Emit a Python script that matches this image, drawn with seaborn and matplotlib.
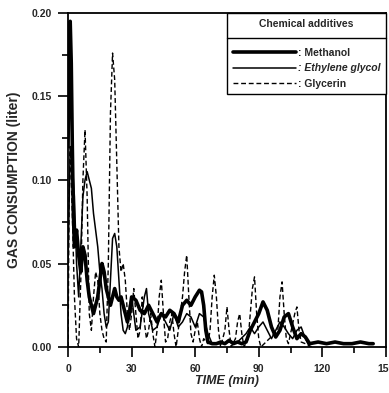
import matplotlib
matplotlib.use('Agg')
import matplotlib.pyplot as plt
from matplotlib.lines import Line2D
from matplotlib.ticker import MultipleLocator, FormatStrFormatter
import seaborn as sns

# Methanol (thick solid)
t_methanol = [0, 0.5, 1, 1.5, 2, 2.5, 3, 4, 5, 6, 7, 8, 9, 10, 11, 12, 13, 14, 15, 16,
              17, 18, 19, 20, 21, 22, 23, 24, 25, 26, 27, 28, 29, 30, 32, 34, 36, 38, 40,
              42, 44, 46, 48, 50, 52, 54, 56, 58, 60, 62, 63, 64, 65, 66, 68, 70, 72, 74,
              76, 78, 80, 82, 84, 86, 88, 90, 92, 94, 96, 98, 100, 102, 104, 106, 108,
              110, 112, 114, 118, 122, 126, 130, 134, 138, 142, 144]
v_methanol = [0.12, 0.19, 0.195, 0.17, 0.12, 0.08, 0.06, 0.07, 0.055, 0.045, 0.06, 0.055,
              0.04, 0.03, 0.025, 0.02, 0.025, 0.03, 0.04, 0.05, 0.045, 0.035, 0.03, 0.025,
              0.03, 0.035, 0.03, 0.028, 0.03, 0.025, 0.02, 0.015, 0.02, 0.03, 0.028, 0.022,
              0.02, 0.025, 0.02, 0.015, 0.02, 0.018, 0.022, 0.02, 0.015, 0.025, 0.028,
              0.025, 0.03, 0.034, 0.033, 0.025, 0.01, 0.003, 0.002, 0.002, 0.003, 0.002,
              0.004, 0.002, 0.003, 0.002, 0.003, 0.01, 0.015, 0.02, 0.027, 0.022, 0.012,
              0.006, 0.01, 0.018, 0.02, 0.012, 0.005, 0.008, 0.006, 0.002, 0.003, 0.002,
              0.003, 0.002, 0.002, 0.003, 0.002, 0.002]

# Ethylene glycol (thin solid)
t_glycol = [0, 1, 2, 3, 4, 5, 6, 7, 8, 9, 10, 11, 12, 13, 14, 15, 16, 17, 18, 19, 20, 21,
            22, 23, 24, 25, 26, 27, 28, 29, 30, 31, 32, 34, 36, 37, 38, 40, 42, 44, 46,
            48, 50, 52, 54, 56, 58, 60, 62, 64, 66, 68, 72, 76, 80, 84, 86, 88, 90, 92,
            94, 96, 98, 100, 102, 104, 106, 108, 110, 112, 114]
v_glycol = [0.05, 0.12, 0.11, 0.09, 0.05, 0.03, 0.06, 0.09, 0.1, 0.105, 0.1, 0.095, 0.08,
            0.07, 0.06, 0.045, 0.035, 0.02, 0.012, 0.015, 0.04, 0.065, 0.068, 0.06, 0.04,
            0.02, 0.01, 0.008, 0.012, 0.025, 0.03, 0.02, 0.01, 0.012, 0.03, 0.035, 0.02,
            0.01, 0.012, 0.02, 0.015, 0.01, 0.02, 0.012, 0.015, 0.02, 0.018, 0.012, 0.02,
            0.018, 0.008, 0.002, 0.002, 0.003, 0.003, 0.008, 0.012, 0.008, 0.012, 0.015,
            0.01, 0.005, 0.01, 0.015, 0.012, 0.008, 0.005, 0.01, 0.012, 0.005, 0.0]

# Glycerin (dashed)
t_glycerin = [0, 0.5, 1, 2, 3, 4, 5, 6, 7, 8, 9, 10, 11, 12, 13, 14, 15, 16, 17, 18, 19,
              20, 21, 22, 23, 24, 25, 26, 27, 28, 29, 30, 31, 32, 33, 34, 35, 36, 37, 38,
              39, 40, 41, 42, 43, 44, 45, 46, 47, 48, 49, 50, 51, 52, 53, 54, 55, 56, 57,
              58, 59, 60, 61, 62, 63, 64, 66, 67, 68, 69, 70, 71, 72, 74, 75, 76, 77, 79,
              80, 81, 82, 83, 85, 86, 87, 88, 89, 90, 91, 99, 100, 101, 102, 103, 104, 105,
              107, 108, 109, 110, 112, 115]
v_glycerin = [0.0, 0.09, 0.12, 0.08, 0.03, 0.005, 0.0, 0.04, 0.1, 0.13, 0.09, 0.02, 0.01,
              0.03, 0.045, 0.04, 0.02, 0.01, 0.005, 0.003, 0.05, 0.14, 0.176, 0.16, 0.11,
              0.06, 0.045, 0.05, 0.04, 0.02, 0.01, 0.02, 0.035, 0.02, 0.005, 0.01, 0.03,
              0.015, 0.005, 0.01, 0.02, 0.008, 0.0, 0.01, 0.03, 0.04, 0.02, 0.003, 0.005,
              0.015, 0.02, 0.008, 0.0, 0.01, 0.02, 0.03, 0.045, 0.055, 0.03, 0.008, 0.003,
              0.01, 0.015, 0.005, 0.0, 0.005, 0.002, 0.01, 0.03, 0.043, 0.03, 0.01, 0.0,
              0.01, 0.024, 0.01, 0.0, 0.005, 0.015, 0.02, 0.008, 0.0, 0.005, 0.02, 0.035,
              0.042, 0.02, 0.005, 0.0, 0.01, 0.03, 0.039, 0.02, 0.005, 0.002, 0.008, 0.02,
              0.024, 0.01, 0.003, 0.002, 0.0]

series_labels = [': Methanol', ': Ethylene glycol', ': Glycerin']
legend_title = 'Chemical additives'

sns.set_style('ticks')
plt.rcParams['font.family'] = ['Liberation Sans', 'DejaVu Sans']
plt.rcParams['font.weight'] = 'bold'

fig = plt.figure(figsize=(3.89, 3.93), dpi=100)
ax = fig.add_axes([0.175, 0.117, 0.817, 0.85])

sns.lineplot(x=t_methanol, y=v_methanol, ax=ax, color='black', linewidth=2.6,
             label=series_labels[0])
sns.lineplot(x=t_glycol, y=v_glycol, ax=ax, color='black', linewidth=1.1,
             label=series_labels[1])
sns.lineplot(x=t_glycerin, y=v_glycerin, ax=ax, color='black', linewidth=1.0,
             linestyle=(0, (3.5, 2)), label=series_labels[2])

ax.set_xlim(0, 150)
ax.set_ylim(0, 0.2)
ax.xaxis.set_major_locator(MultipleLocator(30))
ax.xaxis.set_minor_locator(MultipleLocator(15))
ax.yaxis.set_major_locator(MultipleLocator(0.05))
ax.yaxis.set_minor_locator(MultipleLocator(0.025))
ax.yaxis.set_major_formatter(FormatStrFormatter('%.2f'))
ax.tick_params(which='major', direction='out', length=7, width=1.2, labelsize=7.5,
               color='black', pad=5)
ax.tick_params(which='minor', direction='out', length=4, width=1.2, color='black')
for lab in ax.get_xticklabels() + ax.get_yticklabels():
    lab.set_fontweight('bold')
for sp in ax.spines.values():
    sp.set_visible(True)
    sp.set_color('black')
    sp.set_linewidth(1.3)

ax.set_xlabel('TIME (min)', fontsize=9, fontweight='bold', fontstyle='italic', labelpad=1)
ax.set_ylabel('GAS CONSUMPTION (liter)', fontsize=10, fontweight='bold', labelpad=7)

leg = ax.legend(title=legend_title, loc='upper right', borderaxespad=0,
                fancybox=False, edgecolor='black', framealpha=1, fontsize=7.5,
                title_fontproperties={'weight': 'bold', 'size': 7.5},
                handlelength=6.0, handletextpad=0.2, labelspacing=0.5, borderpad=0.55)
leg.get_frame().set_linewidth(1.0)
# extra room between the title row and the entries
leg._legend_box.sep = 14
for txt in leg.get_texts():
    txt.set_fontweight('bold')
leg.get_texts()[1].set_fontstyle('italic')

# separator line under the legend title
fig.canvas.draw()
renderer = fig.canvas.get_renderer()
fb = leg.get_frame().get_window_extent(renderer)
tb = leg.get_title().get_window_extent(renderer)
eb = leg.get_texts()[0].get_window_extent(renderer)
y_sep = (tb.y0 + eb.y1) / 2
inv = fig.transFigure.inverted()
(x0, y0) = inv.transform((fb.x0, y_sep))
(x1, _) = inv.transform((fb.x1, y_sep))
fig.add_artist(Line2D([x0, x1], [y0, y0], transform=fig.transFigure, color='black', lw=1.0))

fig.savefig('out.png', dpi=100)
